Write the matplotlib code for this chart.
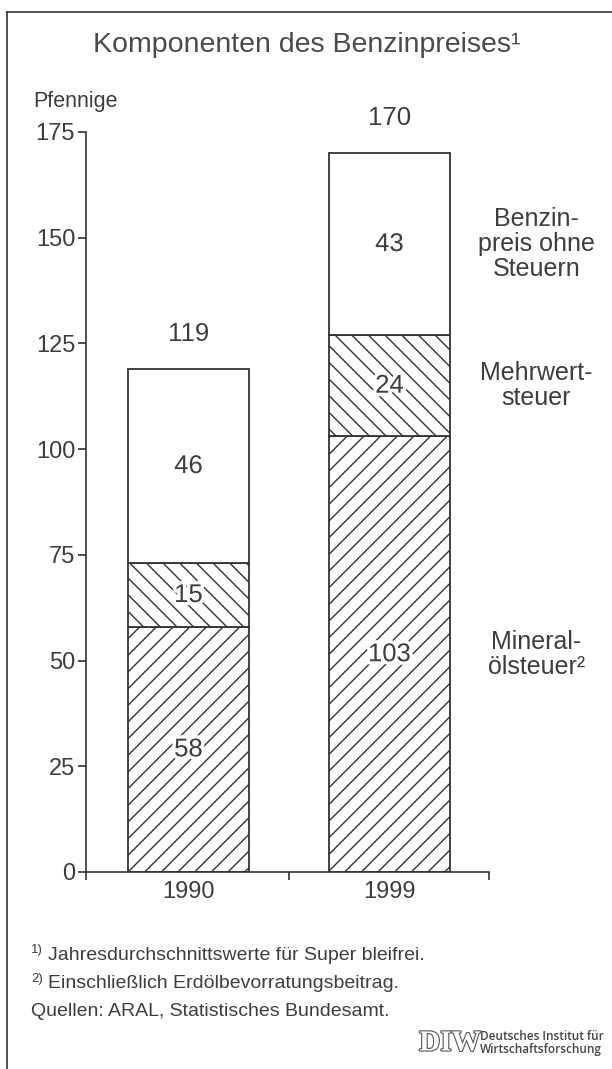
import matplotlib
matplotlib.use('Agg')
import matplotlib.pyplot as plt
import matplotlib.patheffects as pe
from matplotlib.lines import Line2D

# ---------------- data ----------------
years = ['1990', '1999']
mineraloelsteuer = [58, 103]
mehrwertsteuer = [15, 24]
preis_ohne_steuern = [46, 43]
totals = [119, 170]
component_labels = ['Mineral-\nölsteuer²', 'Mehrwert-\nsteuer', 'Benzin-\npreis ohne\nSteuern']
yticks = [0, 25, 50, 75, 100, 125, 150, 175]

title = 'Komponenten des Benzinpreises¹'
unit_label = 'Pfennige'
footnote1 = 'Jahresdurchschnittswerte für Super bleifrei.'
footnote2 = 'Einschließlich Erdölbevorratungsbeitrag.'
source = 'Quellen: ARAL, Statistisches Bundesamt.'

# ---------------- style ----------------
plt.rcParams['font.family'] = ['Liberation Sans', 'DejaVu Sans']
plt.rcParams['hatch.linewidth'] = 1.0
TXT = '#3d3d3d'
LN = '#333333'

W, H = 612, 1069
fig = plt.figure(figsize=(W / 100, H / 100), dpi=100)
fig.patch.set_facecolor('white')


def fx(px):
    return px / W


def fy(py):
    return 1 - py / H


ax = fig.add_axes([fx(86), fy(872), (489 - 86) / W, (872 - 132) / H])
ax.set_facecolor('white')

x = list(range(len(years)))
bottoms = [0] * len(years)
series = [(mineraloelsteuer, '//'), (mehrwertsteuer, '\\\\'), (preis_ohne_steuern, '')]
mids_last = []
for vals, hatch in series:
    ax.bar(x, vals, width=0.6, bottom=bottoms, color='white', edgecolor=LN,
           hatch=hatch, linewidth=1.3, zorder=2)
    for xi, v, b in zip(x, vals, bottoms):
        ax.text(xi, b + v / 2, str(v), ha='center', va='center', fontsize=18.5,
                color=TXT, zorder=5,
                path_effects=[pe.withStroke(linewidth=5, foreground='white')])
    mids_last.append(bottoms[-1] + vals[-1] / 2)
    bottoms = [b + v for b, v in zip(bottoms, vals)]

for xi, t in zip(x, totals):
    ax.text(xi, t + 8.3, str(t), ha='center', va='center', fontsize=18.5, color=TXT)

for lab, m in zip(component_labels, mids_last):
    ax.text(1.73, m, lab, ha='center', va='center', fontsize=18, color=TXT,
            linespacing=1.05)

ax.set_ylim(0, 175)
ax.set_xlim(-0.51, 1.495)
ax.set_yticks(yticks)
ax.set_xticks([-0.51, 0.5, 1.495])
ax.set_xticklabels(['', '', ''])
ax.set_xticks(x, minor=True)
ax.set_xticklabels(years, minor=True)
ax.tick_params(axis='y', direction='out', length=5.8, width=1.2, color=LN,
               labelsize=17, labelcolor=TXT, pad=2)
ax.tick_params(axis='x', which='major', direction='out', length=5.8, width=1.2,
               color=LN)
ax.tick_params(axis='x', which='minor', length=0, labelsize=17, labelcolor=TXT,
               pad=6.5)
for s in ['top', 'right']:
    ax.spines[s].set_visible(False)
for s in ['left', 'bottom']:
    ax.spines[s].set_color(LN)
    ax.spines[s].set_linewidth(1.2)

# ---------------- texts around ----------------
fig.text(fx(307), fy(45), title, ha='center', va='center', fontsize=20.5, color='#4a4a4a')
fig.text(fx(33), fy(101), unit_label, ha='left', va='center', fontsize=15.5, color=TXT)

fig.text(fx(31), fy(950), '1)', ha='left', va='center', fontsize=9.5, color=TXT)
fig.text(fx(48), fy(955), footnote1, ha='left', va='center', fontsize=14, color=TXT)
fig.text(fx(31), fy(979), '2)', ha='left', va='center', fontsize=9.5, color=TXT)
fig.text(fx(48), fy(984), footnote2, ha='left', va='center', fontsize=14, color=TXT)
fig.text(fx(31), fy(1012), source, ha='left', va='center', fontsize=14, color=TXT)

# DIW logo
fig.text(fx(450), fy(1043), 'DIW', ha='center', va='center', fontsize=21,
         fontweight='bold', family=['Liberation Serif', 'DejaVu Serif'], color='white',
         path_effects=[pe.withStroke(linewidth=1.6, foreground='#555555')])
fig.text(fx(480), fy(1043), 'Deutsches Institut für\nWirtschaftsforschung', ha='left',
         va='center', fontsize=8.5, color='#444444', linespacing=1.0,
         family=['Open Sans', 'DejaVu Sans'], fontweight='semibold')

# frame
fig.add_artist(Line2D([fx(7), fx(7)], [fy(12), 0], color=LN, lw=1.2))
fig.add_artist(Line2D([fx(7), 1], [fy(12), fy(12)], color=LN, lw=1.2))

fig.savefig('out.png', dpi=100, facecolor='white')
